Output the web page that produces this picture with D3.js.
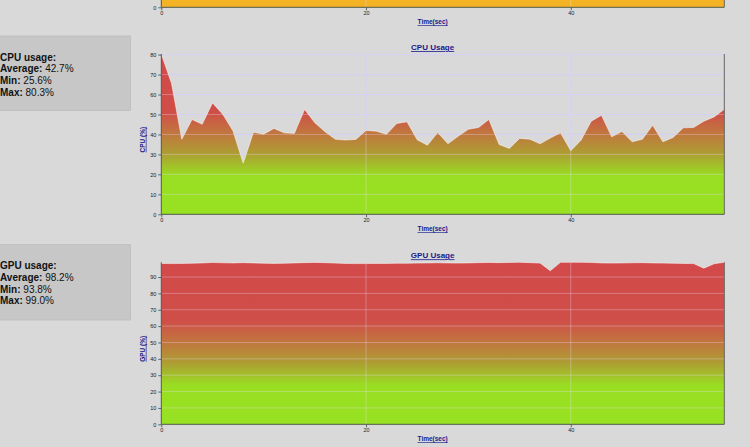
<!DOCTYPE html>
<html>
<head>
<meta charset="utf-8">
<script src="https://cdn.jsdelivr.net/npm/d3@7"></script>
<style>
  html, body { margin: 0; padding: 0; background: #d9d9d9; }
  svg { display: block; }
  text { font-family: "Liberation Sans", Arial, sans-serif; }
</style>
</head>
<body>
<svg id="chart" width="750" height="447"></svg>
<script>
// ---------- DATA ----------
const timeSec = d3.range(0, 56);          // 0..55 seconds
const xTicks = [0, 20, 40];
const cpuTicks = [0, 10, 20, 30, 40, 50, 60, 70, 80];
const gpuTicks = [0, 10, 20, 30, 40, 50, 60, 70, 80, 90];
const topTicks = [0];

const cpuValues = [
  80.3, 65.5, 37.6, 47.5, 45.1, 55.8, 50.1, 41.8, 25.6, 41.1,
  40.1, 43.0, 40.8, 40.5, 52.5, 45.8, 41.3, 37.6, 37.2, 37.5,
  42.0, 41.6, 40.1, 45.5, 46.3, 37.3, 34.6, 41.0, 35.3, 39.1,
  42.6, 43.5, 47.5, 35.0, 33.0, 38.0, 37.6, 35.3, 38.2, 40.8,
  31.8, 37.1, 46.6, 49.6, 38.8, 41.5, 36.3, 37.6, 44.6, 36.3,
  38.5, 43.3, 43.5, 46.6, 48.8, 52.6
];
const gpuValues = [
  98.3, 98.2, 98.3, 98.4, 98.6, 98.9, 98.7, 98.6, 98.8, 98.6,
  98.4, 98.3, 98.4, 98.6, 98.8, 98.9, 98.8, 98.5, 98.3, 98.2,
  98.2, 98.3, 98.3, 98.4, 98.4, 98.5, 98.6, 98.7, 98.6, 98.5,
  98.6, 98.8, 98.9, 98.8, 98.9, 99.0, 98.8, 98.5, 93.8, 99.0,
  99.0, 99.0, 98.9, 98.6, 98.5, 98.6, 98.7, 98.8, 98.6, 98.5,
  98.4, 98.3, 98.2, 95.4, 98.1, 99.0
];
const topValues = timeSec.map(() => 100); // cut-off chart above (full bar)

const cpuStats = { title: "CPU usage:", rows: [["Average:", "42.7%"], ["Min:", "25.6%"], ["Max:", "80.3%"]] };
const gpuStats = { title: "GPU usage:", rows: [["Average:", "98.2%"], ["Min:", "93.8%"], ["Max:", "99.0%"]] };

// ---------- DRAW ----------
const svg = d3.select("#chart");
const defs = svg.append("defs");
const x = d3.scaleLinear().domain([0, 55]).range([161.3, 724.3]);
const titleCx = (141 + 724.3) / 2;

function statsBox(stats, y0, y1) {
  svg.append("rect").attr("x", -1).attr("y", y0).attr("width", 131.5).attr("height", y1 - y0)
    .attr("fill", "#c7c7c7").attr("stroke", "#bcbcbc").attr("stroke-width", 0.8);
  const t = svg.append("g").attr("font-size", "10px").attr("fill", "#111");
  t.append("text").attr("x", 0).attr("y", y0 + 24.5).attr("font-weight", "bold").text(stats.title);
  stats.rows.forEach((r, i) => {
    const tx = t.append("text").attr("x", 0).attr("y", y0 + 36.2 + i * 11.7);
    tx.append("tspan").attr("font-weight", "bold").text(r[0] + " ");
    tx.append("tspan").text(r[1]);
  });
}

function chart(opts) {
  const { values, yMax, top, bottom, ticks, title, ylabel, id, solid } = opts;
  const y = d3.scaleLinear().domain([0, yMax]).range([bottom, top]);
  const g = svg.append("g");

  // gradient
  if (!solid) {
    const grad = defs.append("linearGradient").attr("id", id)
      .attr("gradientUnits", "userSpaceOnUse")
      .attr("x1", 0).attr("x2", 0).attr("y1", top).attr("y2", bottom);
    [[0, "#d24a4a"], [0.36, "#cf4e48"], [0.5, "#c0783e"], [0.62, "#ad9d33"],
     [0.76, "#99de22"], [1, "#98e222"]].forEach(s =>
      grad.append("stop").attr("offset", s[0]).attr("stop-color", s[1]));
  }

  // grid under area
  const grid = (sel, stroke, w) => {
    sel.selectAll(null).data(ticks.filter(d => d > 0)).join("line")
      .attr("x1", x(0)).attr("x2", x(55)).attr("y1", d => y(d)).attr("y2", d => y(d))
      .attr("stroke", stroke).attr("stroke-width", w);
    sel.selectAll(null).data(xTicks.filter(d => d > 0)).join("line")
      .attr("x1", d => x(d)).attr("x2", d => x(d)).attr("y1", top).attr("y2", bottom)
      .attr("stroke", stroke).attr("stroke-width", w);
  };
  grid(g.append("g"), "#cbcbf2", 1);

  // area
  const area = d3.area().x((d, i) => x(timeSec[i])).y0(bottom).y1(d => y(d));
  g.append("path").datum(values).attr("d", area)
    .attr("fill", solid ? solid : `url(#${id})`);
  const line = d3.line().x((d, i) => x(timeSec[i])).y(d => y(d));
  g.append("path").datum(values).attr("d", line).attr("fill", "none")
    .attr("stroke", "rgba(255,255,255,0.55)").attr("stroke-width", 0.9);

  // grid over area (translucent)
  grid(g.append("g"), "rgba(235,225,255,0.32)", 1);

  // axes
  const yAxis = d3.axisLeft(y).tickValues(ticks).tickSize(3).tickPadding(2).tickFormat(d3.format("d"));
  const ya = g.append("g").attr("transform", `translate(${x(0)},0)`).call(yAxis);
  ya.select(".domain").remove();
  ya.selectAll("line").attr("stroke", "#444").attr("stroke-width", 0.8);
  ya.selectAll("text").attr("font-size", "5.5px").attr("fill", "#222").attr("font-family", "Liberation Sans, Arial");

  const xAxis = d3.axisBottom(x).tickValues(xTicks).tickSize(3).tickPadding(1).tickFormat(d3.format("d"));
  const xa = g.append("g").attr("transform", `translate(0,${bottom})`).call(xAxis);
  xa.select(".domain").remove();
  xa.selectAll("line").attr("stroke", "#444").attr("stroke-width", 0.8);
  xa.selectAll("text").attr("font-size", "5.5px").attr("fill", "#222").attr("font-family", "Liberation Sans, Arial");

  // frame lines
  g.append("line").attr("x1", x(0)).attr("x2", x(0)).attr("y1", top).attr("y2", bottom)
    .attr("stroke", "#555").attr("stroke-width", 1);
  g.append("line").attr("x1", x(55)).attr("x2", x(55)).attr("y1", top).attr("y2", bottom)
    .attr("stroke", "#666").attr("stroke-width", 1);
  g.append("line").attr("x1", x(0)).attr("x2", x(55)).attr("y1", bottom).attr("y2", bottom)
    .attr("stroke", "#4f5a48").attr("stroke-width", 1);

  // labels
  const lab = { fill: "#1a1a8c", weight: "bold" };
  if (title) {
    g.append("text").attr("x", titleCx).attr("y", top - 4).attr("text-anchor", "middle")
      .attr("font-size", "8px").attr("font-weight", "bold").attr("fill", lab.fill)
      .attr("text-decoration", "underline").text(title);
  }
  g.append("text").attr("x", titleCx).attr("y", bottom + 17).attr("text-anchor", "middle")
    .attr("font-size", "6.5px").attr("font-weight", "bold").attr("fill", lab.fill)
    .attr("text-decoration", "underline").text("Time(sec)");
  if (ylabel) {
    const cy = (top + bottom) / 2 + 5.5;
    g.append("text").attr("transform", `translate(144.8,${cy}) rotate(-90)`).attr("text-anchor", "middle")
      .attr("font-size", "6.5px").attr("font-weight", "bold").attr("fill", lab.fill)
      .attr("text-decoration", "underline").text(ylabel);
  }
}

// cut-off chart at the very top
chart({ values: topValues, yMax: 100, top: -160, bottom: 7.3, ticks: topTicks, id: "gTop", solid: "#f4b324" });

statsBox(cpuStats, 36, 110.5);
chart({ values: cpuValues, yMax: 80.3, top: 54, bottom: 214.3, ticks: cpuTicks,
        title: "CPU Usage", ylabel: "CPU (%)", id: "gCpu" });

statsBox(gpuStats, 244.7, 320);
chart({ values: gpuValues, yMax: 99, top: 262.3, bottom: 424.3, ticks: gpuTicks,
        title: "GPU Usage", ylabel: "GPU (%)", id: "gGpu" });
</script>
</body>
</html>
